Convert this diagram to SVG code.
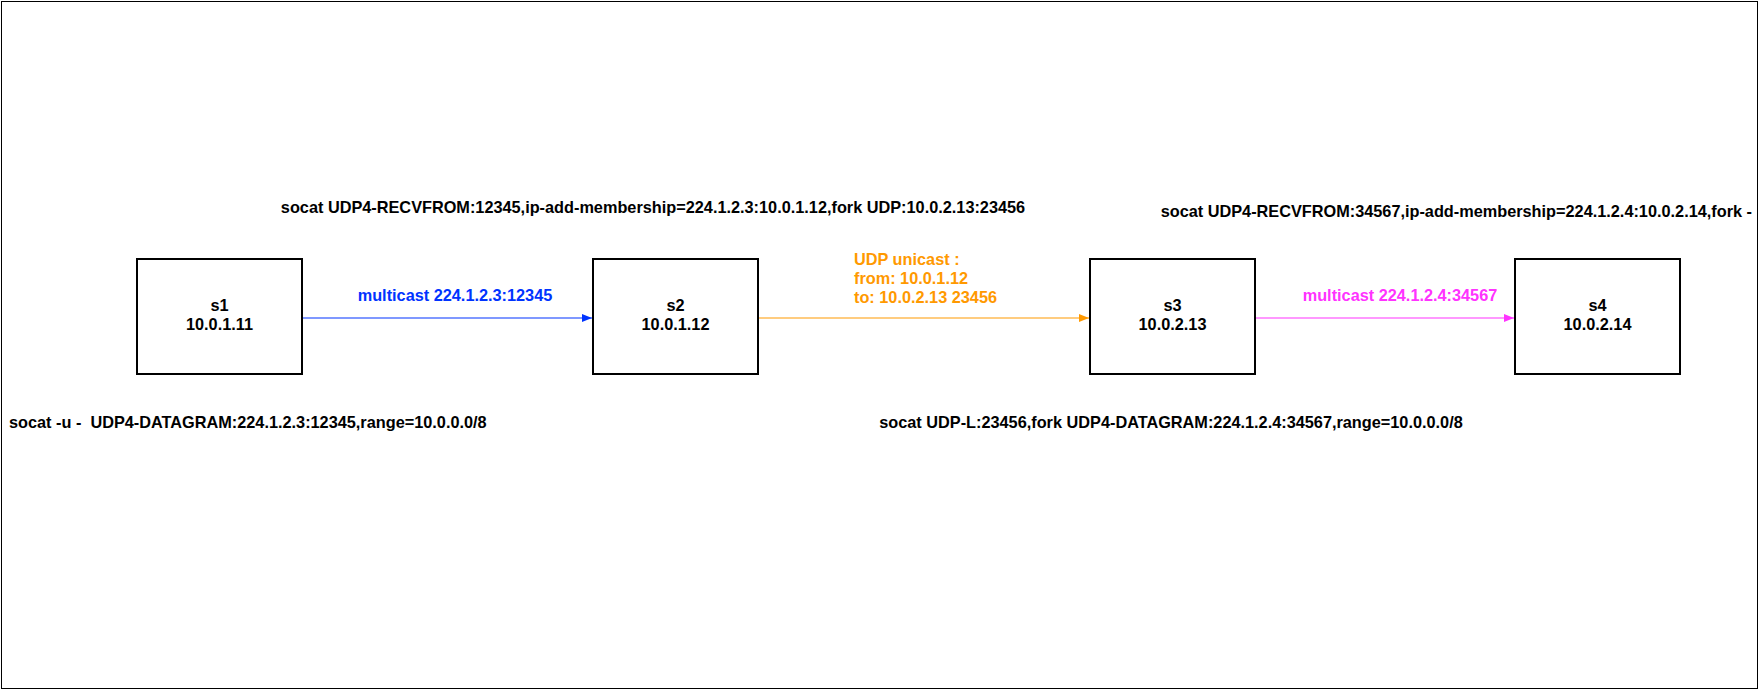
<svg xmlns="http://www.w3.org/2000/svg" width="1760" height="690" viewBox="0 0 1760 690">
<style>
text{font-family:"Liberation Sans",Arial,sans-serif;font-size:16.3px;font-weight:bold}
.box{fill:#fff;stroke:#000;stroke-width:2}
.c{text-anchor:middle}
</style>
<defs>
<marker id="ab" viewBox="0 0 10 10" refX="10" refY="5" markerWidth="10" markerHeight="10" markerUnits="userSpaceOnUse" orient="auto"><path d="M0,1 L10,5 L0,9 Z" fill="#0033ff"/></marker>
<marker id="ao" viewBox="0 0 10 10" refX="10" refY="5" markerWidth="10" markerHeight="10" markerUnits="userSpaceOnUse" orient="auto"><path d="M0,1 L10,5 L0,9 Z" fill="#ff9900"/></marker>
<marker id="am" viewBox="0 0 10 10" refX="10" refY="5" markerWidth="10" markerHeight="10" markerUnits="userSpaceOnUse" orient="auto"><path d="M0,1 L10,5 L0,9 Z" fill="#ff33ff"/></marker>
</defs>
<rect x="0" y="0" width="1760" height="690" fill="#fff"/>
<rect x="1.5" y="1.5" width="1756" height="687" fill="none" stroke="#000" stroke-width="1"/>
<g id="connectors">
<line x1="302" y1="318" x2="592" y2="318" stroke="#0033ff" stroke-width="1.2" marker-end="url(#ab)"/>
<line x1="758" y1="318" x2="1089" y2="318" stroke="#ff9900" stroke-width="1.2" marker-end="url(#ao)"/>
<line x1="1255" y1="318" x2="1514" y2="318" stroke="#ff33ff" stroke-width="1.2" marker-end="url(#am)"/>
<text x="455" y="301" class="c" fill="#0033ff">multicast 224.1.2.3:12345</text>
<text x="854" y="265" fill="#ff9900">UDP unicast :</text>
<text x="854" y="284" fill="#ff9900">from: 10.0.1.12</text>
<text x="854" y="303" fill="#ff9900">to: 10.0.2.13 23456</text>
<text x="1400" y="301" class="c" fill="#ff33ff">multicast 224.1.2.4:34567</text>
</g>
<g id="s1"><rect class="box" x="137" y="259" width="165" height="115"/><text x="219.5" y="311" class="c">s1</text><text x="219.5" y="330" class="c">10.0.1.11</text></g>
<g id="s2"><rect class="box" x="593" y="259" width="165" height="115"/><text x="675.5" y="311" class="c">s2</text><text x="675.5" y="330" class="c">10.0.1.12</text></g>
<g id="s3"><rect class="box" x="1090" y="259" width="165" height="115"/><text x="1172.5" y="311" class="c">s3</text><text x="1172.5" y="330" class="c">10.0.2.13</text></g>
<g id="s4"><rect class="box" x="1515" y="259" width="165" height="115"/><text x="1597.5" y="311" class="c">s4</text><text x="1597.5" y="330" class="c">10.0.2.14</text></g>
<g id="labels">
<text x="653" y="213" class="c">socat UDP4-RECVFROM:12345,ip-add-membership=224.1.2.3:10.0.1.12,fork UDP:10.0.2.13:23456</text>
<text x="1752" y="217" text-anchor="end">socat UDP4-RECVFROM:34567,ip-add-membership=224.1.2.4:10.0.2.14,fork -</text>
<text x="9" y="428" xml:space="preserve">socat -u -  UDP4-DATAGRAM:224.1.2.3:12345,range=10.0.0.0/8</text>
<text x="1171" y="428" class="c">socat UDP-L:23456,fork UDP4-DATAGRAM:224.1.2.4:34567,range=10.0.0.0/8</text>
</g>
</svg>
